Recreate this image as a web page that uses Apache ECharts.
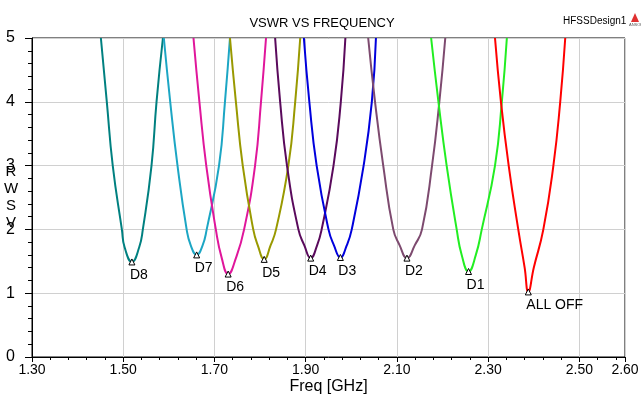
<!DOCTYPE html>
<html>
<head>
<meta charset="utf-8">
<title>VSWR VS FREQUENCY</title>
<script src="https://cdn.jsdelivr.net/npm/echarts@6/dist/echarts.min.js"></script>
<style>
  html, body { margin: 0; padding: 0; background: #fff; }
  #chart { width: 641px; height: 399px; }
</style>
</head>
<body>
<div id="chart"></div>
<script>
// values: frequency (GHz) and VSWR along each curve
const d8Freq = [1.451, 1.464, 1.477, 1.497, 1.503, 1.519, 1.535, 1.543, 1.562, 1.573, 1.587];
const d8Vswr = [5, 4, 3, 2, 1.72, 1.49, 1.72, 2, 3, 4, 5];

const d7Freq = [1.589, 1.603, 1.619, 1.639, 1.648, 1.661, 1.674, 1.683, 1.710, 1.723, 1.734];
const d7Vswr = [5, 4, 3, 2, 1.75, 1.60, 1.75, 2, 3, 4, 5];

const d6Freq = [1.654, 1.667, 1.682, 1.703, 1.716, 1.730, 1.747, 1.765, 1.789, 1.802, 1.813];
const d6Vswr = [5, 4, 3, 2, 1.55, 1.30, 1.55, 2, 3, 4, 5];

const d5Freq = [1.734, 1.747, 1.762, 1.785, 1.795, 1.809, 1.823, 1.835, 1.862, 1.877, 1.888];
const d5Vswr = [5, 4, 3, 2, 1.75, 1.53, 1.75, 2, 3, 4, 5];

const d4Freq = [1.833, 1.844, 1.859, 1.884, 1.897, 1.911, 1.925, 1.935, 1.961, 1.977, 1.987];
const d4Vswr = [5, 4, 3, 2, 1.75, 1.55, 1.75, 2, 3, 4, 5];

const d3Freq = [1.896, 1.908, 1.924, 1.950, 1.962, 1.976, 1.990, 2.001, 2.027, 2.045, 2.054];
const d3Vswr = [5, 4, 3, 2, 1.75, 1.56, 1.75, 2, 3, 4, 5];

const d2Freq = [2.037, 2.052, 2.070, 2.092, 2.106, 2.122, 2.139, 2.155, 2.177, 2.193, 2.206];
const d2Vswr = [5, 4, 3, 2, 1.75, 1.55, 1.75, 2, 3, 4, 5];

const d1Freq = [2.175, 2.191, 2.209, 2.231, 2.242, 2.257, 2.273, 2.286, 2.315, 2.330, 2.341];
const d1Vswr = [5, 4, 3, 2, 1.60, 1.34, 1.60, 2, 3, 4, 5];

const allOffFreq = [2.315, 2.328, 2.345, 2.366, 2.380, 2.388, 2.400, 2.421, 2.443, 2.458, 2.469];
const allOffVswr = [5, 4, 3, 2, 1.40, 1.02, 1.40, 2, 3, 4, 5];

const curveNames = ['D8', 'D7', 'D6', 'D5', 'D4', 'D3', 'D2', 'D1', 'ALL OFF'];
const curveColors = ['#008080', '#1ca6c4', '#e0169b', '#999900', '#5a0a5c', '#0000dd', '#7d4a6f', '#22ee22', '#ff0000'];
const curves = [
  [d8Freq, d8Vswr], [d7Freq, d7Vswr], [d6Freq, d6Vswr], [d5Freq, d5Vswr], [d4Freq, d4Vswr],
  [d3Freq, d3Vswr], [d2Freq, d2Vswr], [d1Freq, d1Vswr], [allOffFreq, allOffVswr]
];

const FONT = "'Liberation Sans Narrow', 'Arial Narrow', 'Liberation Sans', Arial, sans-serif";

const chart = echarts.init(document.getElementById('chart'));

let series = curves.map((c, i) => {
  let freq = c[0], vswr = c[1];
  let pts = freq.map((f, k) => [f, vswr[k]]);
  // marker at the lowest point of each curve
  let low = 0;
  vswr.forEach((v, k) => { if (v < vswr[low]) low = k; });
  return {
    name: curveNames[i],
    type: 'line',
    smooth: 0.5,
    showSymbol: false,
    data: pts,
    lineStyle: {color: curveColors[i], width: 2},
    itemStyle: {color: curveColors[i]},
    markPoint: {
      symbol: 'triangle',
      symbolSize: 6,
      itemStyle: {color: '#fff', borderColor: '#000', borderWidth: 1},
      label: {
        show: true,
        position: 'bottom',
        distance: 0,
        align: 'left',
        offset: [-2, 3],
        formatter: curveNames[i],
        color: '#000',
        fontFamily: FONT,
        fontSize: 14
      },
      data: [{coord: pts[low]}]
    }
  };
});

let options = {
  animation: false,
  backgroundColor: '#fff',
  title: {
    text: 'VSWR VS FREQUENCY',
    left: 317,
    textAlign: 'center',
    top: 12,
    textStyle: {fontFamily: FONT, fontSize: 13, fontWeight: 'normal', color: '#000'}
  },
  grid: {
    left: 32, right: 16, top: 38, bottom: 42,
    outerBoundsMode: 'none', containLabel: false,
    show: true, borderColor: '#000', borderWidth: 1
  },
  xAxis: {
    type: 'value',
    min: 1.3,
    max: 2.6,
    interval: 0.2,
    name: 'Freq [GHz]',
    nameLocation: 'middle',
    nameGap: 22,
    nameMoveOverlap: false,
    nameTextStyle: {fontFamily: FONT, fontSize: 16, color: '#000'},
    axisLine: {lineStyle: {color: '#000'}},
    axisTick: {length: 5, lineStyle: {color: '#000'}},
    minorTick: {show: true, splitNumber: 5, length: 3, lineStyle: {color: '#000'}},
    axisLabel: {
      margin: 6,
      fontFamily: FONT,
      fontSize: 14,
      color: '#000',
      formatter: v => v.toFixed(2)
    },
    splitLine: {show: true, lineStyle: {color: '#d0d0d0'}}
  },
  yAxis: {
    type: 'value',
    min: 0,
    max: 5,
    interval: 1,
    name: 'R\nW\nS\nV',
    nameLocation: 'middle',
    nameRotate: 0,
    nameGap: 21,
    nameMoveOverlap: false,
    nameTextStyle: {fontFamily: FONT, fontSize: 15, lineHeight: 17, color: '#000', align: 'center', verticalAlign: 'middle'},
    axisLine: {show: true, lineStyle: {color: '#000'}},
    axisTick: {show: true, length: 7, lineStyle: {color: '#000'}},
    minorTick: {show: true, splitNumber: 5, length: 4, lineStyle: {color: '#000'}},
    axisLabel: {margin: 17, fontFamily: FONT, fontSize: 16, color: '#000'},
    splitLine: {show: true, lineStyle: {color: '#d0d0d0'}}
  },
  graphic: [
    {
      type: 'text',
      left: 563,
      top: 16,
      style: {text: 'HFSSDesign1', fontFamily: FONT, fontSize: 10, fill: '#000'}
    },
    {
      type: 'polygon',
      shape: {points: [[635, 13], [631, 22], [639, 22]]},
      style: {fill: '#e03030'}
    },
    {
      type: 'text',
      left: 629,
      top: 23,
      style: {text: 'ANSOFT', fontFamily: FONT, fontSize: 4, fill: '#555'}
    }
  ],
  series: series
};

chart.setOption(options);
</script>
</body>
</html>
